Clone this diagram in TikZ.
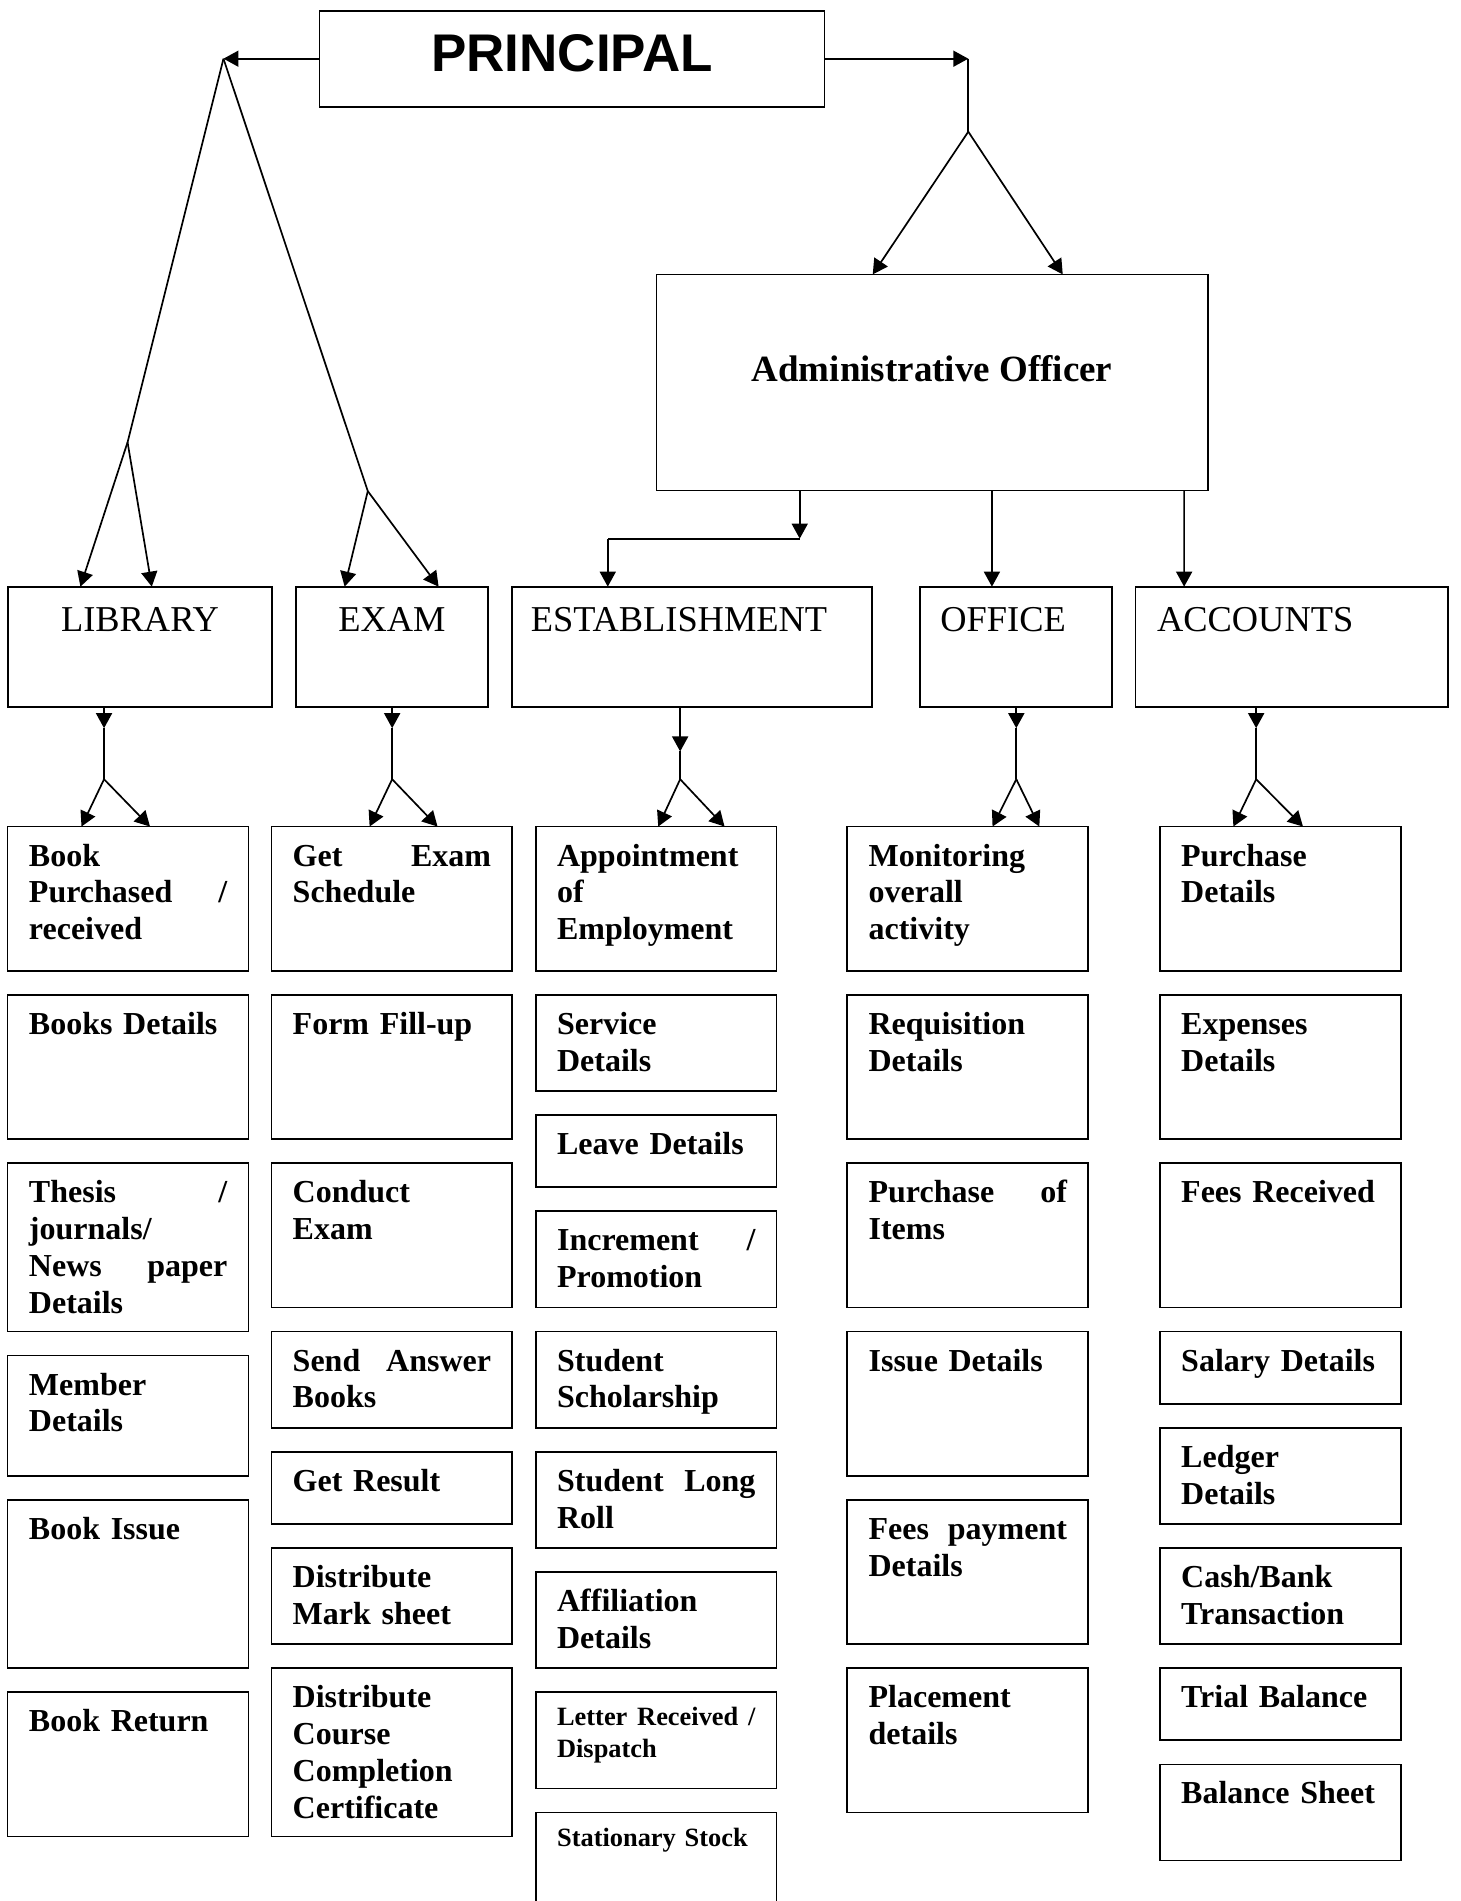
\documentclass[tikz,border=0pt]{standalone}
\usepackage{fontspec}
\setmainfont{Liberation Serif}
\newfontfamily\headfont{Liberation Sans}
\usetikzlibrary{arrows.meta}
\newcommand\mybox[5]{\node[bx, anchor=north west, minimum width={((#4)-(#2))*0.606312pt}, minimum height={((#5)-(#3))*0.606312pt}] (#1) at ({#2},{#3}) {};}
\newcommand\childbox[5]{%
  \mybox{#1}{#2}{681.6+19.83*#3}{#2+198.6}{681.6+19.83*#4}
  \node[ctext, anchor=base west] (#1t) at ([shift={(17.6,32.6)}]#1.north west) {#5};}
\newcommand\forkdown[6]{%
  \coordinate (#1m) at (#3,#4);
  \coordinate (#1f) at (#3,642.6);
  \coordinate (#1ta) at (#5,681.6);
  \coordinate (#1tb) at (#6,681.6);
  \draw[arr] (#1.south -| #1m) -- (#1m);
  \draw (#1m) -- (#1f);
  \draw[arr] (#1f) -- (#2.north -| #1ta);
  \draw[arr] (#1f) -- (#2.north -| #1tb);}
\begin{document}
\begin{tikzpicture}[x=0.606312pt, y=-0.606312pt,
  line width=0.85pt,
  arr/.style={-{Triangle[length=7.5pt,width=8pt]}},
  bx/.style={draw, rectangle, inner sep=0pt, outer sep=0pt, line width=0.85pt},
  ctext/.style={inner sep=0pt, outer sep=0pt, text width=99.2pt, align=left, font=\fontsize{16}{18.4}\selectfont\bfseries},
  stext/.style={ctext, font=\fontsize{13.2}{15.9}\selectfont\bfseries},
  ltext/.style={inner sep=0pt, outer sep=0pt, font=\fontsize{18.2}{21}\selectfont},
]
\useasboundingbox (0,0) rectangle (1204,1567.67);

% top level
\mybox{prin}{263.4}{8.8}{680}{88}
\node[inner sep=0pt, anchor=base, font=\headfont\bfseries\fontsize{26.5}{30}\selectfont] (print) at (471.7,59.1) {PRINCIPAL};

\mybox{adm}{541.3}{226.3}{995.9}{404.5}
\node[inner sep=0pt, anchor=base, font=\bfseries\fontsize{18.5}{22}\selectfont] (admt) at (768.6,314.8) {Administrative Officer};

% level 2
\mybox{lib}{6.5}{483.8}{224.4}{582.8}
\mybox{exam}{243.9}{483.8}{402.6}{582.8}
\mybox{est}{422.0}{483.8}{719.1}{582.8}
\mybox{off}{758.7}{483.8}{917.2}{582.8}
\mybox{acc}{936.5}{483.8}{1194.3}{582.8}
\node[ltext, anchor=base] (libt) at (115.4,521) {LIBRARY};
\node[ltext, anchor=base] (examt) at (323.2,521) {EXAM};
\node[ltext, anchor=base west] (estt) at (437.7,521) {ESTABLISHMENT};
\node[ltext, anchor=base west] (offt) at (775.5,521) {OFFICE};
\node[ltext, anchor=base west] (acct) at (954.2,521) {ACCOUNTS};

% connectors from principal
\coordinate (L0) at (184.3,48.4);
\coordinate (L1) at (105.2,364.7);
\coordinate (L2) at (303.3,405);
\draw[arr] (prin.west) -- (L0);
\draw (L0) -- (L1);
\draw (L0) -- (L2);
\draw[arr] (L1) -- ([shift={(59.8,0)}]lib.north west);
\draw[arr] (L1) -- ([shift={(118.7,0)}]lib.north west);
\draw[arr] (L2) -- ([shift={(40.3,0)}]exam.north west);
\draw[arr] (L2) -- ([shift={(117.8,0)}]exam.north west);

\coordinate (R0) at (798.5,48.4);
\coordinate (R1) at (798.5,108.6);
\draw[arr] (prin.east) -- (R0);
\draw (R0) -- (R1);
\draw[arr] (R1) -- ([shift={(178.4,0)}]adm.north west);
\draw[arr] (R1) -- ([shift={(335.1,0)}]adm.north west);

% admin to level 2
\coordinate (E1) at (659.5,444.2);
\coordinate (E2) at (501.2,444.2);
\draw[arr] (adm.south -| E1) -- (E1);
\draw (E1) -- (E2);
\draw[arr] (E2) -- (est.north -| E2);
\draw[arr] ([shift={(276.7,0)}]adm.south west) -- ([shift={(59.3,0)}]off.north west);
\draw[arr] ([shift={(435.2,0)}]adm.south west) -- ([shift={(40,0)}]acc.north west);

% column 1 LIBRARY
\childbox{a1}{6.3}{0}{6}{Book\\Purchased\hfill/\\received}
\childbox{a2}{6.3}{7}{13}{Books Details}
\childbox{a3}{6.3}{14}{21}{Thesis\hfill/\\journals/\\News\hfill paper\\Details}
\childbox{a4}{6.3}{22}{27}{Member\\Details}
\childbox{a5}{6.3}{28}{35}{Book Issue}
\childbox{a6}{6.3}{36}{42}{Book Return}

% column 2 EXAM
\childbox{b1}{223.8}{0}{6}{Get\hfill Exam\\Schedule}
\childbox{b2}{223.8}{7}{13}{Form Fill-up}
\childbox{b3}{223.8}{14}{20}{Conduct\\Exam}
\childbox{b4}{223.8}{21}{25}{Send\hfill Answer\\Books}
\childbox{b5}{223.8}{26}{29}{Get Result}
\childbox{b6}{223.8}{30}{34}{Distribute\\Mark sheet}
\childbox{b7}{223.8}{35}{42}{Distribute\\Course\\Completion\\Certificate}

% column 3 ESTABLISHMENT
\childbox{c1}{441.8}{0}{6}{Appointment\\of\\Employment}
\childbox{c2}{441.8}{7}{11}{Service\\Details}
\childbox{c3}{441.8}{12}{15}{Leave Details}
\childbox{c4}{441.8}{16}{20}{Increment\hfill/\\Promotion}
\childbox{c5}{441.8}{21}{25}{Student\\Scholarship}
\childbox{c6}{441.8}{26}{30}{Student\hfill Long\\Roll}
\childbox{c7}{441.8}{31}{35}{Affiliation\\Details}
\mybox{c8}{441.8}{681.6+19.83*36}{640.4}{681.6+19.83*40}
\node[stext, anchor=base west] (c8t) at ([shift={(17.6,27.4)}]c8.north west) {Letter\hfill Received\hfill/\\Dispatch};
\node[inner sep=0pt, outer sep=0pt, anchor=north west, minimum width={198.6*0.606312pt}, minimum height={80*0.606312pt}] (c9) at (441.8,{681.6+19.83*41}) {};
\draw (c9.south west) -- (c9.north west) -- (c9.north east) -- (c9.south east);
\node[stext, anchor=base west] (c9t) at ([shift={(17.6,27.9)}]c9.north west) {Stationary Stock};

% column 4 OFFICE
\childbox{d1}{698.7}{0}{6}{Monitoring\\overall\\activity}
\childbox{d2}{698.7}{7}{13}{Requisition\\Details}
\childbox{d3}{698.7}{14}{20}{Purchase\hfill of\\Items}
\childbox{d4}{698.7}{21}{27}{Issue Details}
\childbox{d5}{698.7}{28}{34}{Fees\hfill payment\\Details}
\childbox{d6}{698.7}{35}{41}{Placement\\details}

% column 5 ACCOUNTS
\childbox{e1}{956.5}{0}{6}{Purchase\\Details}
\childbox{e2}{956.5}{7}{13}{Expenses\\Details}
\childbox{e3}{956.5}{14}{20}{Fees Received}
\childbox{e4}{956.5}{21}{24}{Salary Details}
\childbox{e5}{956.5}{25}{29}{Ledger\\Details}
\childbox{e6}{956.5}{30}{34}{Cash/Bank\\Transaction}
\childbox{e7}{956.5}{35}{38}{Trial Balance}
\childbox{e8}{956.5}{39}{43}{Balance Sheet}

% forks from level 2 to first children
\forkdown{lib}{a1}{85.8}{600.5}{67.2}{123.7}
\forkdown{exam}{b1}{323.4}{600.5}{304.8}{360.8}
\forkdown{est}{c1}{560.9}{619.7}{542.8}{597.5}
\forkdown{off}{d1}{838.1}{600.5}{818.5}{857.1}
\forkdown{acc}{e1}{1035.9}{600.5}{1017.1}{1074.5}
\end{tikzpicture}
\end{document}
